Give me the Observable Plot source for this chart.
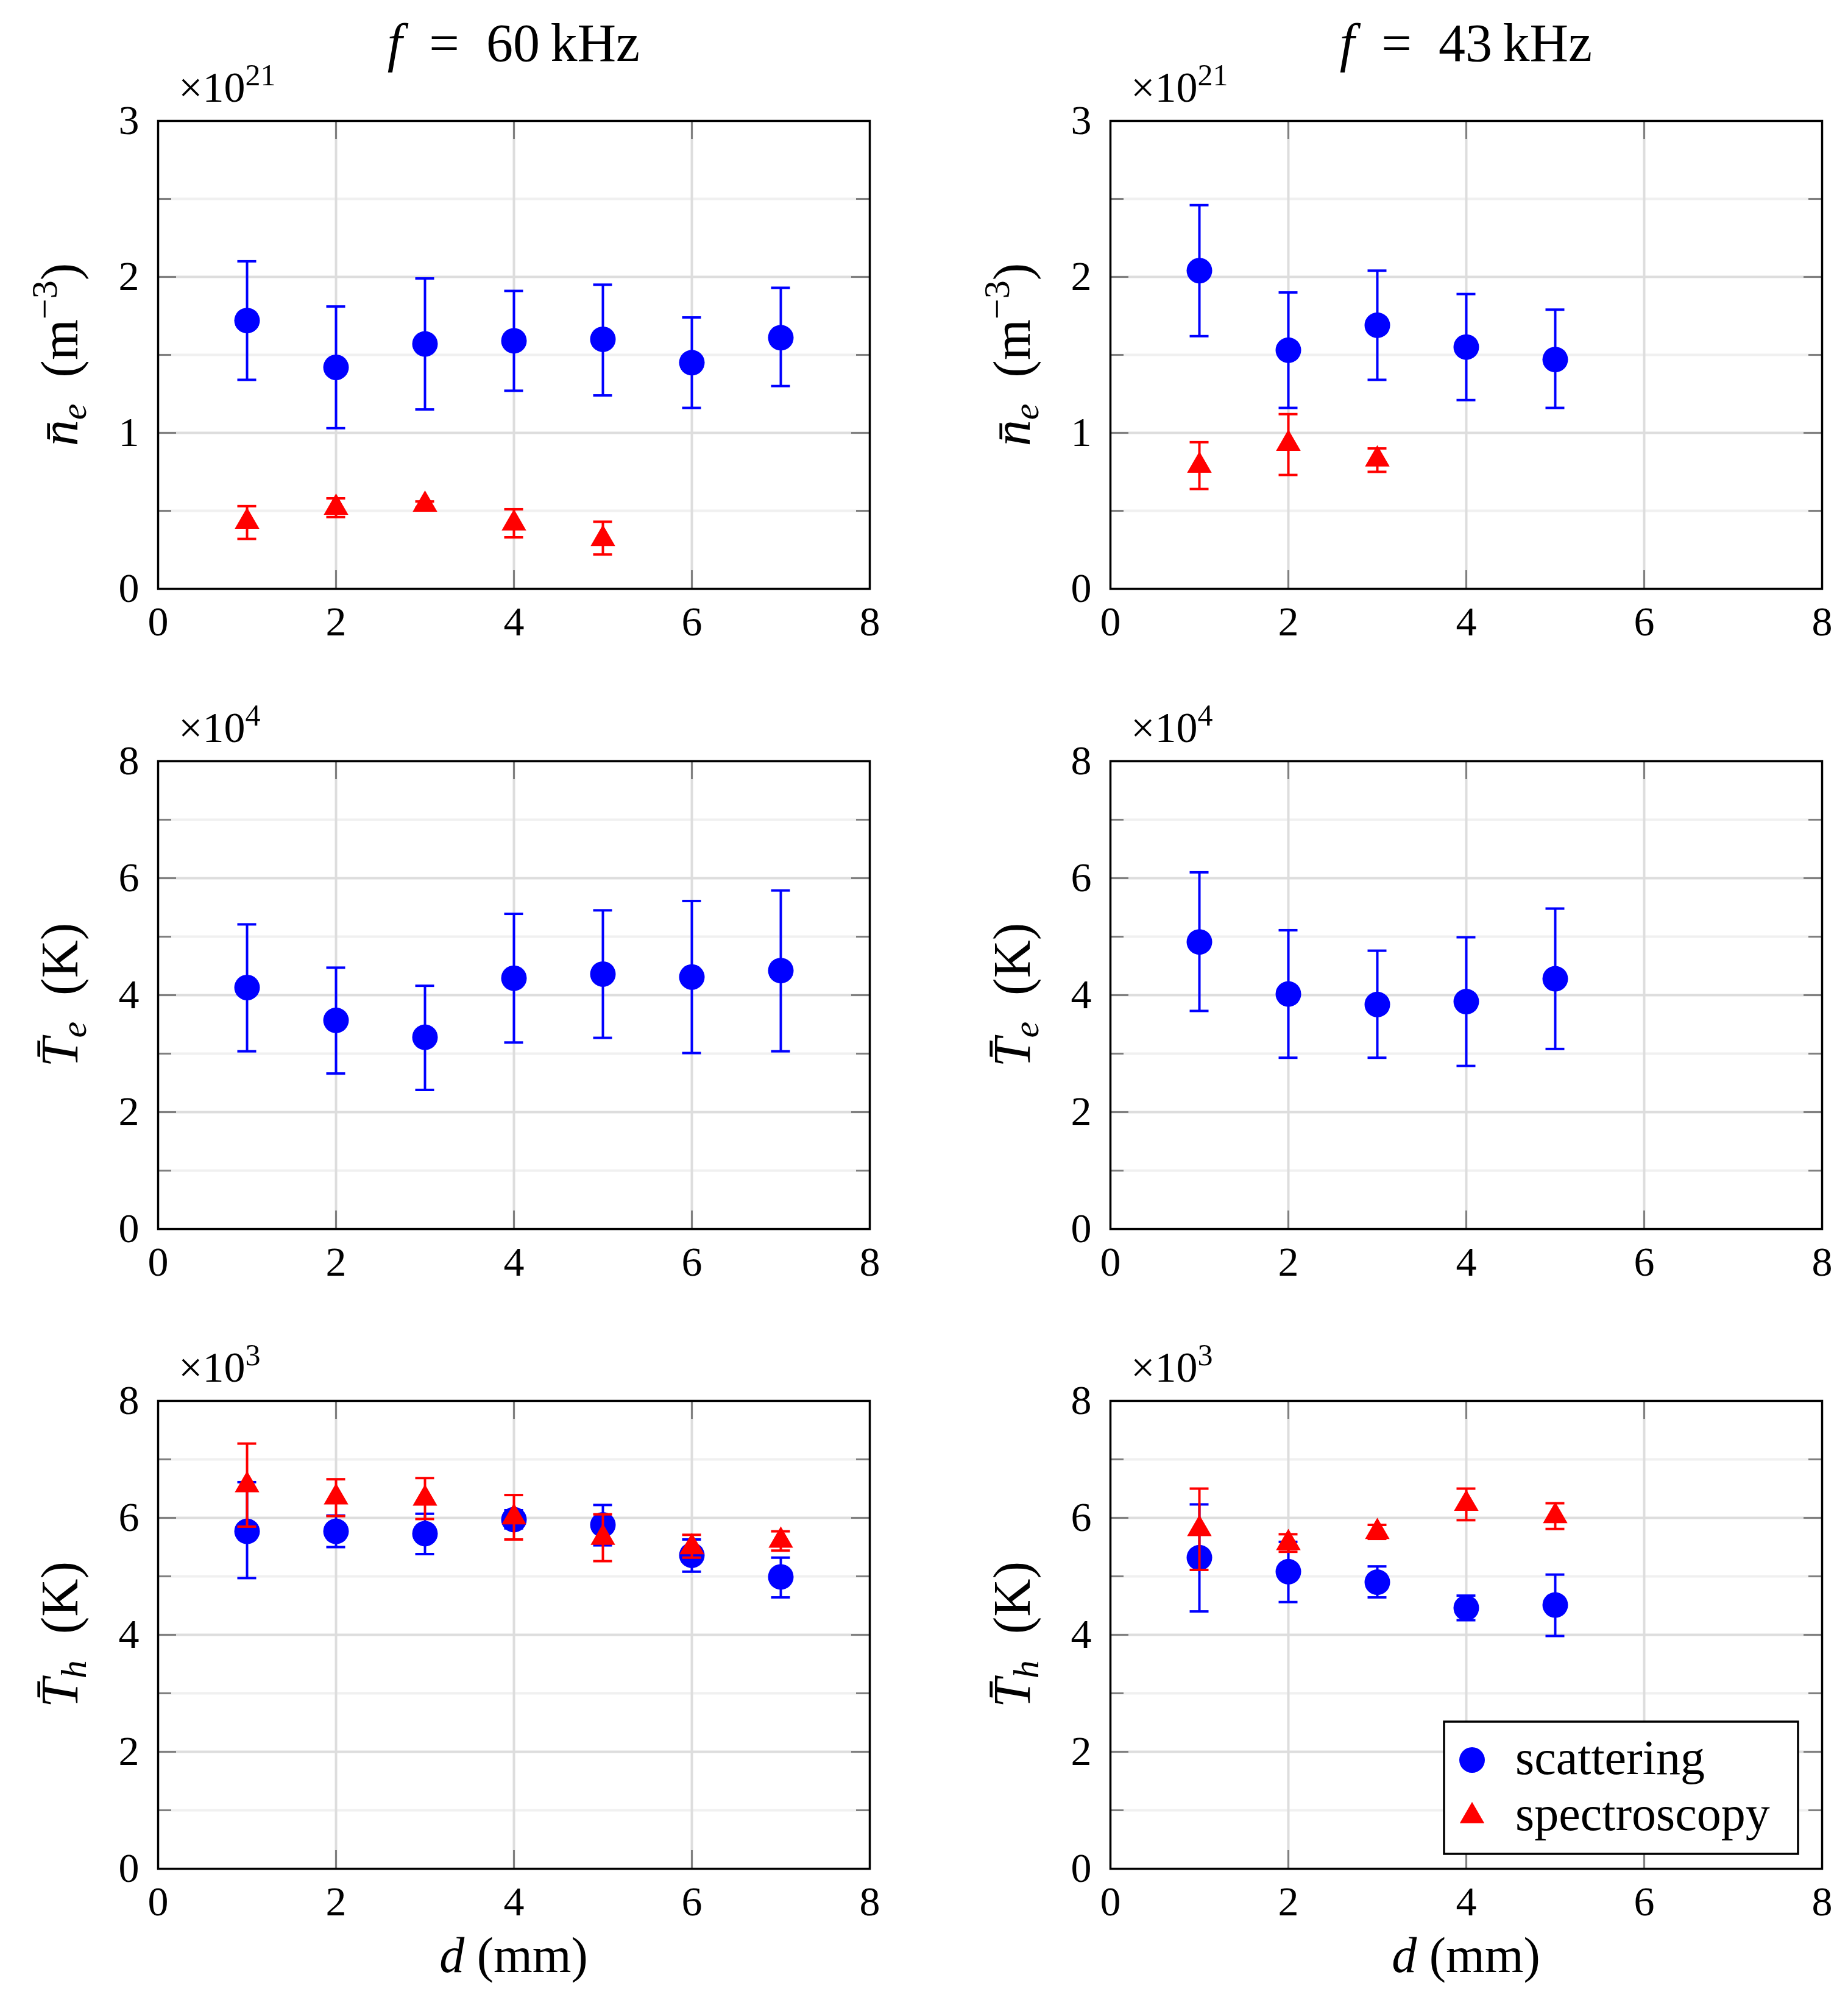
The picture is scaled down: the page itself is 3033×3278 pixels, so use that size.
<!DOCTYPE html>
<html><head><meta charset="utf-8">
<script src="https://cdn.jsdelivr.net/npm/d3@7"></script>
<script src="https://cdn.jsdelivr.net/npm/@observablehq/plot@0.6"></script>
<style>
html,body{margin:0;padding:0;background:#fff;}
#page{position:relative;width:3033px;height:3278px;background:#fff;overflow:hidden;}
#page svg{position:absolute;}
</style></head><body><div id="page"></div>
<script>
// ---------- data ----------
const d60 = [1, 2, 3, 4, 5, 6, 7];
const d43 = [1, 2, 3, 4, 5];
const specD60ne = [1, 2, 3, 4, 5];
const specD43ne = [1, 2, 3];

const titles = ["60", "43"];
const xTicks = [0, 2, 4, 6, 8];
const neTicks = [0, 1, 2, 3];
const neMinor = [0.5, 1.5, 2.5];
const tTicks = [0, 2, 4, 6, 8];
const tMinor = [1, 3, 5, 7];
const legendLabels = ["scattering", "spectroscopy"];

// electron density (x10^21 m^-3)
const ne60Scat   = [1.72, 1.42, 1.57, 1.59, 1.60, 1.45, 1.61];
const ne60ScatLo = [1.34, 1.03, 1.15, 1.27, 1.24, 1.16, 1.30];
const ne60ScatHi = [2.10, 1.81, 1.99, 1.91, 1.95, 1.74, 1.93];
const ne60Spec   = [0.43, 0.52, 0.54, 0.42, 0.32];
const ne60SpecLo = [0.32, 0.46, 0.52, 0.33, 0.22];
const ne60SpecHi = [0.53, 0.58, 0.56, 0.51, 0.43];
const ne43Scat   = [2.04, 1.53, 1.69, 1.55, 1.47];
const ne43ScatLo = [1.62, 1.16, 1.34, 1.21, 1.16];
const ne43ScatHi = [2.46, 1.90, 2.04, 1.89, 1.79];
const ne43Spec   = [0.79, 0.93, 0.83];
const ne43SpecLo = [0.64, 0.73, 0.75];
const ne43SpecHi = [0.94, 1.12, 0.90];

// electron temperature (x10^4 K)
const te60   = [4.13, 3.57, 3.28, 4.29, 4.36, 4.31, 4.42];
const te60Lo = [3.04, 2.66, 2.38, 3.19, 3.27, 3.01, 3.04];
const te60Hi = [5.21, 4.47, 4.16, 5.39, 5.45, 5.61, 5.79];
const te43   = [4.91, 4.02, 3.84, 3.89, 4.28];
const te43Lo = [3.73, 2.93, 2.93, 2.79, 3.08];
const te43Hi = [6.10, 5.11, 4.76, 4.99, 5.48];

// heavy-particle temperature (x10^3 K)
const th60Scat   = [5.77, 5.77, 5.73, 5.97, 5.88, 5.36, 4.99];
const th60ScatLo = [4.97, 5.50, 5.38, 5.82, 5.53, 5.08, 4.64];
const th60ScatHi = [6.61, 6.04, 6.07, 6.13, 6.22, 5.63, 5.32];
const th60Spec   = [6.56, 6.35, 6.33, 6.01, 5.66, 5.50, 5.61];
const th60SpecLo = [5.85, 6.03, 5.98, 5.63, 5.26, 5.32, 5.44];
const th60SpecHi = [7.27, 6.66, 6.68, 6.39, 6.06, 5.71, 5.77];
const th43Scat   = [5.32, 5.08, 4.90, 4.46, 4.51];
const th43ScatLo = [4.40, 4.56, 4.64, 4.25, 3.98];
const th43ScatHi = [6.23, 5.59, 5.17, 4.67, 5.03];
const th43Spec   = [5.81, 5.57, 5.76, 6.24, 6.03];
const th43SpecLo = [5.11, 5.42, 5.64, 5.96, 5.81];
const th43SpecHi = [6.50, 5.72, 5.88, 6.50, 6.25];

// ---------- helpers ----------
const rows = (xs, v, lo, hi) => xs.map((x, i) => ({d: x, v: v[i], lo: lo[i], hi: hi[i]}));
const FONT = "'Liberation Serif', 'DejaVu Serif', serif";
const BLUE = "#0000ff", RED = "#ff0000";
const FW = 1168, FH = 768;
const colLeft = [259, 1822];
const rowTop = [198, 1249, 2299];
const page = document.getElementById("page");

function panel(o) {
  const mL = 259, mR = 50;
  const mT = o.row === 0 ? 198 : 130;
  const mB = o.row === 2 ? 210 : 130;
  const capHalf = 15.5 / (FW / 8);
  const xInner = xTicks.filter(v => v > 0 && v < 8);
  const errMarks = (data, color) => [
    Plot.ruleX(data, {x: "d", y1: "lo", y2: "hi", stroke: color, strokeWidth: 4}),
    Plot.ruleY(data, {y: "hi", x1: d => d.d - capHalf, x2: d => d.d + capHalf, stroke: color, strokeWidth: 4}),
    Plot.ruleY(data, {y: "lo", x1: d => d.d - capHalf, x2: d => d.d + capHalf, stroke: color, strokeWidth: 4})
  ];
  const marks = [
    Plot.ruleY(o.yMinor, {y: d => d, stroke: "#f0f0f0", strokeWidth: 4}),
    Plot.ruleY(o.yMajor.filter(v => v > 0 && v < o.yMax), {y: d => d, stroke: "#dddddd", strokeWidth: 4}),
    Plot.ruleX(xInner, {x: d => d, stroke: "#dddddd", strokeWidth: 4}),
    Plot.tickY(o.yMajor, {y: d => d, stroke: "#808080", strokeWidth: 3, insetRight: FW - 30}),
    Plot.tickY(o.yMajor, {y: d => d, stroke: "#808080", strokeWidth: 3, insetLeft: FW - 30}),
    Plot.tickY(o.yMinor, {y: d => d, stroke: "#808080", strokeWidth: 3, insetRight: FW - 22}),
    Plot.tickY(o.yMinor, {y: d => d, stroke: "#808080", strokeWidth: 3, insetLeft: FW - 22}),
    Plot.tickX(xInner, {x: d => d, stroke: "#808080", strokeWidth: 3, insetTop: FH - 30}),
    Plot.tickX(xInner, {x: d => d, stroke: "#808080", strokeWidth: 3, insetBottom: FH - 30}),
    ...errMarks(o.scat, BLUE),
    Plot.dot(o.scat, {x: "d", y: "v", r: 21, fill: BLUE, stroke: "none"})
  ];
  if (o.spec) {
    marks.push(...errMarks(o.spec, RED));
    marks.push(Plot.dot(o.spec, {x: "d", y: "v", symbol: "triangle", r: 15, fill: RED, stroke: "none"}));
  }
  marks.push(Plot.frame({stroke: "black", strokeWidth: 3.5}));

  const el = Plot.plot({
    width: mL + FW + mR, height: mT + FH + mB,
    marginLeft: mL, marginRight: mR, marginTop: mT, marginBottom: mB,
    x: {domain: [0, 8], ticks: xTicks, tickSize: 0, tickPadding: 28, label: null, tickFormat: d => String(d)},
    y: {domain: [0, o.yMax], ticks: o.yMajor, tickSize: 0, tickPadding: 31, label: null, tickFormat: d => String(d)},
    style: {fontFamily: FONT, fontSize: "68px", background: "transparent", overflow: "visible", maxWidth: "none", color: "black"},
    marks
  });
  el.style.left = (colLeft[o.col] - mL) + "px";
  el.style.top = (rowTop[o.row] - mT) + "px";
  page.appendChild(el);

  const svg = d3.select(el);
  // multiplier
  const m = svg.append("text").attr("x", mL + 34).attr("y", mT - 31).attr("text-anchor", "start")
    .attr("font-family", FONT).attr("font-size", 70).attr("fill", "black");
  m.append("tspan").text("\u00d710");
  m.append("tspan").attr("dy", -27).attr("font-size", 50).text(o.exp);

  // y label
  const yl = svg.append("text")
    .attr("transform", `translate(${mL - 132},${mT + FH / 2}) rotate(-90)`)
    .attr("text-anchor", "middle").attr("font-family", FONT).attr("font-size", 86).attr("fill", "black");
  yl.append("tspan").attr("font-style", "italic").text(o.sym + "\u0304");
  yl.append("tspan").attr("font-style", "italic").attr("font-size", 60).attr("dy", 14).text(o.sub);
  if (o.unitSup) {
    yl.append("tspan").attr("dy", -14).text("\u2002(m");
    yl.append("tspan").attr("font-size", 60).attr("dy", -34).text(o.unitSup);
    yl.append("tspan").attr("dy", 34).text(")");
  } else {
    yl.append("tspan").attr("dy", -14).text("\u2002(" + o.unit + ")");
  }

  if (o.row === 0) {
    const t = svg.append("text").attr("x", mL + FW / 2).attr("y", mT - 98)
      .attr("text-anchor", "middle").attr("font-family", FONT).attr("font-size", 88).attr("fill", "black");
    t.append("tspan").attr("font-style", "italic").text("f");
    t.append("tspan").text("\u2002=\u2002" + o.title + "\u2009kHz");
  }
  if (o.row === 2) {
    const t = svg.append("text").attr("x", mL + FW / 2).attr("y", mT + FH + 170)
      .attr("text-anchor", "middle").attr("font-family", FONT).attr("font-size", 82).attr("fill", "black");
    t.append("tspan").attr("font-style", "italic").text("d");
    t.append("tspan").text(" (mm)");
  }
  if (o.legend) {
    const g = svg.append("g").attr("transform", `translate(${mL + 548},${mT + 527})`);
    g.append("rect").attr("x", 0).attr("y", 0).attr("width", 581).attr("height", 217)
      .attr("fill", "white").attr("stroke", "black").attr("stroke-width", 3.5);
    g.append("circle").attr("cx", 46).attr("cy", 63).attr("r", 21).attr("fill", BLUE);
    g.append("path").attr("transform", "translate(46,155)").attr("d", d3.symbol(d3.symbolTriangle, Math.PI * 15 * 15)()).attr("fill", RED);
    g.append("text").attr("x", 117).attr("y", 86).attr("text-anchor", "start").attr("font-family", FONT).attr("font-size", 80).text(legendLabels[0]);
    g.append("text").attr("x", 117).attr("y", 178).attr("text-anchor", "start").attr("font-family", FONT).attr("font-size", 80).text(legendLabels[1]);
  }
}

panel({col: 0, row: 0, yMax: 3, yMajor: neTicks, yMinor: neMinor, exp: "21", sym: "n", sub: "e", unitSup: "\u22123",
  title: titles[0], scat: rows(d60, ne60Scat, ne60ScatLo, ne60ScatHi), spec: rows(specD60ne, ne60Spec, ne60SpecLo, ne60SpecHi)});
panel({col: 1, row: 0, yMax: 3, yMajor: neTicks, yMinor: neMinor, exp: "21", sym: "n", sub: "e", unitSup: "\u22123",
  title: titles[1], scat: rows(d43, ne43Scat, ne43ScatLo, ne43ScatHi), spec: rows(specD43ne, ne43Spec, ne43SpecLo, ne43SpecHi)});
panel({col: 0, row: 1, yMax: 8, yMajor: tTicks, yMinor: tMinor, exp: "4", sym: "T", sub: "e", unit: "K",
  scat: rows(d60, te60, te60Lo, te60Hi)});
panel({col: 1, row: 1, yMax: 8, yMajor: tTicks, yMinor: tMinor, exp: "4", sym: "T", sub: "e", unit: "K",
  scat: rows(d43, te43, te43Lo, te43Hi)});
panel({col: 0, row: 2, yMax: 8, yMajor: tTicks, yMinor: tMinor, exp: "3", sym: "T", sub: "h", unit: "K",
  scat: rows(d60, th60Scat, th60ScatLo, th60ScatHi), spec: rows(d60, th60Spec, th60SpecLo, th60SpecHi)});
panel({col: 1, row: 2, yMax: 8, yMajor: tTicks, yMinor: tMinor, exp: "3", sym: "T", sub: "h", unit: "K",
  scat: rows(d43, th43Scat, th43ScatLo, th43ScatHi), spec: rows(d43, th43Spec, th43SpecLo, th43SpecHi), legend: true});
</script></body></html>
